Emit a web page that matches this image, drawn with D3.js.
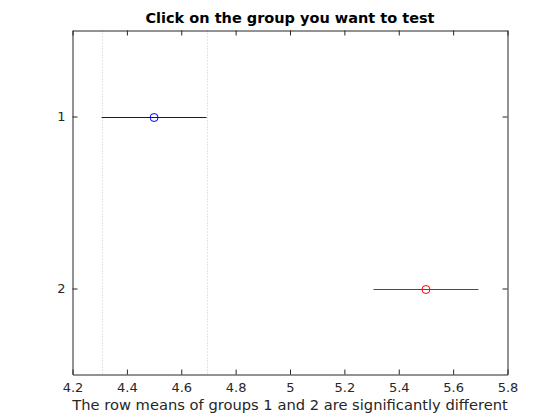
<!DOCTYPE html>
<html><head><meta charset="utf-8">
<script src="https://cdn.jsdelivr.net/npm/d3@7"></script>
<style>body{margin:0;background:#fff}svg{display:block}</style>
</head><body>
<script>
const groups = ["1", "2"];
const means = [4.5, 5.5];
const lower = [4.307, 5.307];
const upper = [4.693, 5.693];
const colors = ["#0000ff", "#ff0000"];
const xTicks = [4.2, 4.4, 4.6, 4.8, 5, 5.2, 5.4, 5.6, 5.8];
const title = "Click on the group you want to test";
const xlabel = "The row means of groups 1 and 2 are significantly different";

const W = 560, H = 420;
const m = {l: 72.5, r: 52.5, t: 30.5, b: 45.5};
const svg = d3.select("body").append("svg").attr("width", W).attr("height", H)
  .style("font-family", "DejaVu Sans, sans-serif");
const x = d3.scaleLinear().domain([4.2, 5.8]).range([m.l, W - m.r]);
const y = d3.scaleLinear().domain([0.5, 2.5]).range([m.t, H - m.b]);

// dotted reference lines at the selected group's interval
[lower[0], upper[0]].forEach(v => {
  svg.append("line").attr("x1", Math.round(x(v)) + 0.5).attr("x2", Math.round(x(v)) + 0.5)
    .attr("y1", y(0.5)).attr("y2", y(2.5))
    .attr("stroke", "#c8c8c8").attr("stroke-width", 1).attr("stroke-dasharray", "1,2");
});

// axes
const xb = d3.axisBottom(x).tickValues(xTicks).tickFormat(d => d3.format("")(d)).tickSizeInner(-5).tickSizeOuter(0).tickPadding(8.5);
const xt = d3.axisTop(x).tickValues(xTicks).tickFormat("").tickSizeInner(-5).tickSizeOuter(0);
const yl = d3.axisLeft(y).tickValues([1, 2]).tickFormat((d, i) => groups[i]).tickSizeInner(-5).tickSizeOuter(0).tickPadding(7);
const yr = d3.axisRight(y).tickValues([1, 2]).tickFormat("").tickSizeInner(-5).tickSizeOuter(0);

function style(g) {
  g.select(".domain").attr("stroke", "#262626");
  g.selectAll(".tick line").attr("stroke", "#262626");
  g.selectAll("text").attr("fill", "#262626").style("font-size", "13px").style("font-family", "DejaVu Sans, sans-serif");
}
svg.append("g").attr("transform", `translate(0,${H - m.b})`).call(xb).call(style);
svg.append("g").attr("transform", `translate(0,${m.t})`).call(xt).call(style);
svg.append("g").attr("transform", `translate(${m.l},0)`).call(yl).call(style);
svg.append("g").attr("transform", `translate(${W - m.r},0)`).call(yr).call(style);

// intervals with mean markers
const marks = svg.append("g").attr("class", "marks");
groups.forEach((g, i) => {
  const yy = Math.round(y(i + 1)) + 0.5;
  marks.append("line")
    .attr("x1", x(lower[i])).attr("x2", x(upper[i])).attr("y1", yy).attr("y2", yy)
    .attr("stroke", colors[i]).attr("stroke-width", 1);
  marks.append("circle").attr("cx", x(means[i])).attr("cy", yy).attr("r", 4)
    .attr("fill", "none").attr("stroke", colors[i]).attr("stroke-width", 1);
});

svg.append("text").attr("x", (m.l + W - m.r) / 2).attr("y", 23).attr("text-anchor", "middle")
  .style("font-size", "14.5px").style("font-weight", "bold").attr("fill", "#000").text(title);
svg.append("text").attr("x", (m.l + W - m.r) / 2).attr("y", 410).attr("text-anchor", "middle")
  .style("font-size", "14.7px").attr("fill", "#262626").text(xlabel);
</script>
</body></html>
